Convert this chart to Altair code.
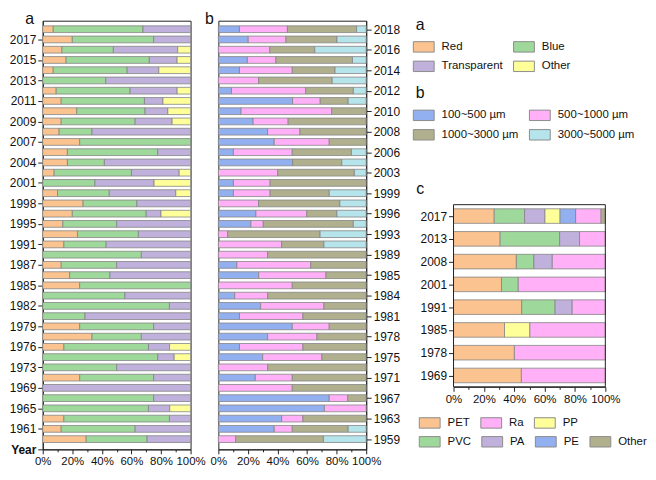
import json
import altair as alt
import pandas as pd

FONT = "Liberation Sans"

# ---------------- data ----------------
years = ["1959", "1961", "1963", "1965", "1967", "1969", "1971", "1973", "1975", "1976",
         "1978", "1979", "1981", "1982", "1984", "1985", "1985", "1987", "1989", "1991",
         "1993", "1995", "1996", "1998", "1999", "2001", "2003", "2004", "2006", "2007",
         "2008", "2009", "2010", "2011", "2012", "2013", "2014", "2015", "2016", "2017", "2018"]

colour_cats = ["Red", "Blue", "Transparent", "Other"]
colour_colors = ["#FAC38F", "#9ED89B", "#BFB0DC", "#FFFF99"]
red = [29.4, 12.5, 14.3, 0, 0, 0, 25, 0, 0, 14.3, 33.3, 25, 0, 0, 0, 25, 18.2, 12.5, 0, 14.3,
       23.5, 13.6, 20, 27.3, 10, 0, 7.7, 16.7, 16.7, 25, 11.1, 12.5, 23, 12.5, 9.1, 0, 7.1, 15.8, 13, 20, 7.1]
blue = [41.2, 50, 71.4, 71.5, 75, 0, 50, 50, 77.8, 57.2, 33.4, 50, 28.6, 85.7, 55.6, 75, 27.3, 37.5, 66.7, 28.6,
        41.2, 36.4, 50, 36.4, 35, 35.3, 52.3, 25, 61.1, 75, 22.2, 50, 46.2, 56.3, 50, 42.6, 50, 56.3, 34.8, 55, 60.7]
transparent = [29.4, 37.5, 14.3, 14.4, 25, 100, 25, 50, 11.1, 14.3, 33.3, 25, 71.4, 14.3, 44.4, 0, 54.5, 50, 33.3, 57.1,
               35.3, 50, 10, 36.3, 45, 40, 32.3, 58.3, 22.2, 0, 66.7, 25, 15.4, 12.5, 31.8, 57.4, 21.4, 18.8, 43.5, 25, 32.2]
other_colour = [0, 0, 0, 14.1, 0, 0, 0, 0, 11.1, 14.2, 0, 0, 0, 0, 0, 0, 0, 0, 0, 0,
                0, 0, 20, 0, 10, 24.7, 7.7, 0, 0, 0, 0, 12.5, 15.4, 18.7, 9.1, 0, 21.5, 9.1, 8.7, 0, 0]

size_cats = ["100~500 µm", "500~1000 µm", "1000~3000 µm", "3000~5000 µm"]
size_colors = ["#92AFF0", "#FFB0F7", "#B0B08F", "#B5E4EA"]
s100 = [0, 37.8, 42.8, 71.7, 75, 0, 25, 0, 30, 14.3, 33.3, 50, 14.3, 28.6, 11.1, 0, 27.3, 12.5, 0, 0,
        0, 22, 25.4, 0, 10.2, 10.2, 0, 50.2, 10.2, 37.8, 33.3, 23.5, 15.4, 50.2, 8.9, 0, 14.3, 19.6, 0, 20.2, 14.3]
s500 = [11.7, 12.2, 14.4, 28.3, 12.5, 50, 25, 33.3, 40, 42.9, 33.4, 25, 42.9, 42.8, 22.2, 50, 45.5, 50, 33.3, 42.8,
        6.3, 8.4, 34.4, 27.2, 24.8, 24.8, 40.2, 0, 39.8, 37.2, 21.9, 23.7, 61.3, 18.7, 50.2, 27.2, 35.7, 19.3, 34.8, 25.5, 32.4]
s1000 = [59.4, 37.8, 42.8, 0, 12.5, 50, 50, 66.7, 30, 42.8, 33.3, 25, 42.8, 28.6, 66.7, 50, 27.2, 37.5, 66.7, 28.6,
         62.5, 60.9, 20.4, 55, 40, 65, 51.8, 33.3, 40, 25, 44.8, 52.8, 23.3, 18.9, 32.2, 49.8, 28.9, 51.8, 30.4, 34.5, 46.8]
s3000 = [28.9, 12.2, 0, 0, 0, 0, 0, 0, 0, 0, 0, 0, 0, 0, 0, 0, 0, 0, 0, 28.6,
         31.2, 8.7, 19.8, 17.8, 25, 0, 8, 16.5, 10, 0, 0, 0, 0, 12.2, 8.7, 23, 21.1, 9.3, 34.8, 19.8, 6.5]

poly_years = ["1969", "1978", "1985", "1991", "2001", "2008", "2013", "2017"]
poly_stack = ["PET", "PVC", "PA", "PP", "PE", "Ra", "Other"]
pet = [44.7, 40.1, 33.6, 44.9, 31.6, 41.4, 30.7, 26.8]
pvc = [0, 0, 0, 22.0, 10.9, 11.5, 39.2, 20.0]
pa = [0, 0, 0, 11.1, 0, 12.0, 13.1, 13.3]
pp = [0, 0, 16.7, 0, 0, 0, 0, 10.1]
pe = [0, 0, 0, 0, 0, 0, 0, 10.2]
ra = [55.3, 59.9, 49.7, 22.0, 57.5, 35.1, 17.0, 16.8]
other_poly = [0, 0, 0, 0, 0, 0, 0, 2.8]
poly_color_map = {"PET": "#FAC38F", "PVC": "#9ED89B", "PA": "#BFB0DC", "PP": "#FFFF99",
                  "PE": "#92AFF0", "Ra": "#FFB0F7", "Other": "#B0B08F"}
poly_legend_row1 = ["PET", "Ra", "PP"]
poly_legend_row2 = ["PVC", "PA", "PE", "Other"]

# ---------------- helpers ----------------
W_AB, H = 149, 432
W_C, H_C = 153, 369
GAP = 32
SYM = "M-1.4,-0.7H1.4V0.7H-1.4Z"


def stacked(labels, series, half):
    recs = []
    for i in range(len(series[0])):
        total = sum(s[i] for s in series)
        acc = 0.0
        for lab, s in zip(labels, series):
            v = s[i] / total * 100.0
            if v > 0:
                recs.append({"cat": lab, "x0": acc, "x1": acc + v,
                             "y0": i + 1 - half, "y1": i + 1 + half})
                acc += v
    return pd.DataFrame(recs)


def x_axis():
    return alt.Axis(values=list(range(0, 101, 10)),
                    labelExpr="datum.value % 20 == 0 ? datum.value + '%' : ''",
                    tickSize={"condition": {"test": "datum.value % 20 != 0", "value": 2.5}, "value": 4.5},
                    title=None, grid=False, labelPadding=2, labelFlush=False,
                    labelOverlap=False, labelFontSize=11.5)


def legend(title, x, y, cols):
    return alt.Legend(title=title, orient="none", legendX=x, legendY=y, columns=cols,
                      direction="horizontal",
                      symbolType=SYM, symbolSize=225, symbolStrokeColor="#8c8c8c",
                      symbolStrokeWidth=1, symbolOpacity=1,
                      labelFontSize=11.5, labelFont=FONT, labelColor="#111", labelOffset=10,
                      titleFontSize=16, titleFont=FONT, titleFontWeight="normal",
                      titleColor="#111", titlePadding=6, rowPadding=4, columnPadding=8)


row_label_expr = json.dumps(["Year"] + years) + "[datum.value]"
y_scale_ab = alt.Scale(domain=[0, 41.83], nice=False, zero=False)
x_scale = alt.Scale(domain=[0, 100], nice=False)

# ---------------- panel a ----------------
df_a = stacked(colour_cats, [red, blue, transparent, other_colour], 0.33)
panel_a = alt.Chart(df_a).mark_rect(stroke="#858585", strokeWidth=0.8).encode(
    x=alt.X("x0:Q", scale=x_scale, axis=x_axis()),
    x2="x1:Q",
    y=alt.Y("y0:Q", scale=y_scale_ab, axis=alt.Axis(
        values=list(range(0, 41, 2)), labelExpr=row_label_expr, tickSize=5, labelPadding=2,
        grid=False, labelOverlap=False,
        labelFontWeight={"condition": {"test": "datum.value == 0", "value": "bold"}, "value": "normal"},
        title="a", titleAngle=0, titleX=-18, titleY=3, titleAlign="left",
        titleBaseline="alphabetic", titleFontSize=16, titleFontWeight="normal", titleColor="#111")),
    y2="y1:Q",
    color=alt.Color("cat:N", scale=alt.Scale(domain=colour_cats, range=colour_colors),
                    legend=legend("a", 376, -4, 2)),
).properties(width=W_AB, height=H)

# ---------------- panel b ----------------
df_b = stacked(size_cats, [s100, s500, s1000, s3000], 0.33)
panel_b = alt.Chart(df_b).mark_rect(stroke="#858585", strokeWidth=0.8).encode(
    x=alt.X("x0:Q", scale=x_scale, axis=x_axis()),
    x2="x1:Q",
    y=alt.Y("y0:Q", scale=y_scale_ab, axis=alt.Axis(
        orient="right", values=list(range(1, 42, 2)), labelExpr=row_label_expr, tickSize=5,
        labelPadding=2, grid=False, labelOverlap=False,
        title="b", titleAngle=0, titleX=-(W_AB + 14), titleY=3, titleAlign="left",
        titleBaseline="alphabetic", titleFontSize=16, titleFontWeight="normal", titleColor="#111")),
    y2="y1:Q",
    color=alt.Color("cat:N", scale=alt.Scale(domain=size_cats, range=size_colors),
                    legend=legend("b", 199, 65, 2)),
).properties(width=W_AB, height=H)

# ---------------- spacer ----------------
gap = alt.Chart(pd.DataFrame({"v": [0]})).mark_point(opacity=0).encode(
    x=alt.X("v:Q", axis=None), y=alt.Y("v:Q", axis=None)
).properties(width=GAP, height=H, view=alt.ViewBackground(stroke="transparent"))

# ---------------- panel c ----------------
df_c = stacked(poly_stack, [pet, pvc, pa, pp, pe, ra, other_poly], 0.32)
poly_label_expr = json.dumps([""] + poly_years) + "[datum.value]"
y_scale_c = alt.Scale(domain=[0.5, 16.58], nice=False, zero=False)
y_axis_c = alt.Axis(
    values=list(range(1, len(poly_years) + 1)), labelExpr=poly_label_expr, tickSize=5,
    labelPadding=2, grid=False, domain=False, labelOverlap=False,
    title="c", titleAngle=0, titleX=-38, titleY=174, titleAlign="left",
    titleBaseline="alphabetic", titleFontSize=16, titleFontWeight="normal", titleColor="#111")


def c_layer(cats, legend_y, cols):
    sub = df_c[df_c["cat"].isin(cats)]
    return alt.Chart(sub).mark_rect(stroke="#858585", strokeWidth=0.8).encode(
        x=alt.X("x0:Q", scale=x_scale, axis=x_axis()),
        x2="x1:Q",
        y=alt.Y("y0:Q", scale=y_scale_c, axis=y_axis_c),
        y2="y1:Q",
        color=alt.Color("cat:N", scale=alt.Scale(domain=cats, range=[poly_color_map[k] for k in cats]),
                        legend=legend(None, -32, legend_y, cols)),
    )


c_bars1 = c_layer(poly_legend_row1, 397, 3)
c_bars2 = c_layer(poly_legend_row2, 416, 4)
frame_df = pd.DataFrame({"x0": [0], "x1": [100], "y0": [0.5], "y1": [len(poly_years) + 0.5]})
c_frame = alt.Chart(frame_df).mark_rect(fillOpacity=0, stroke="#222", strokeWidth=1).encode(
    x=alt.X("x0:Q", scale=x_scale, axis=x_axis()), x2="x1:Q",
    y=alt.Y("y0:Q", scale=y_scale_c, axis=y_axis_c), y2="y1:Q")
panel_c = alt.layer(c_bars1, c_bars2, c_frame).resolve_scale(color="independent").properties(
    width=W_C, height=H_C, view=alt.ViewBackground(stroke="transparent"))

chart = alt.hconcat(panel_a, panel_b, gap, panel_c, spacing=28, bounds="flush").resolve_scale(
    color="independent", x="independent", y="independent"
).resolve_legend(color="independent").properties(padding=0).configure_view(
    stroke="#222", strokeWidth=1
).configure_axis(
    labelFont=FONT, labelFontSize=12, labelColor="#111", domainColor="#222", tickColor="#222",
    titleFont=FONT
)

chart.save("out.html", embed_options={"renderer": "svg", "actions": False})
